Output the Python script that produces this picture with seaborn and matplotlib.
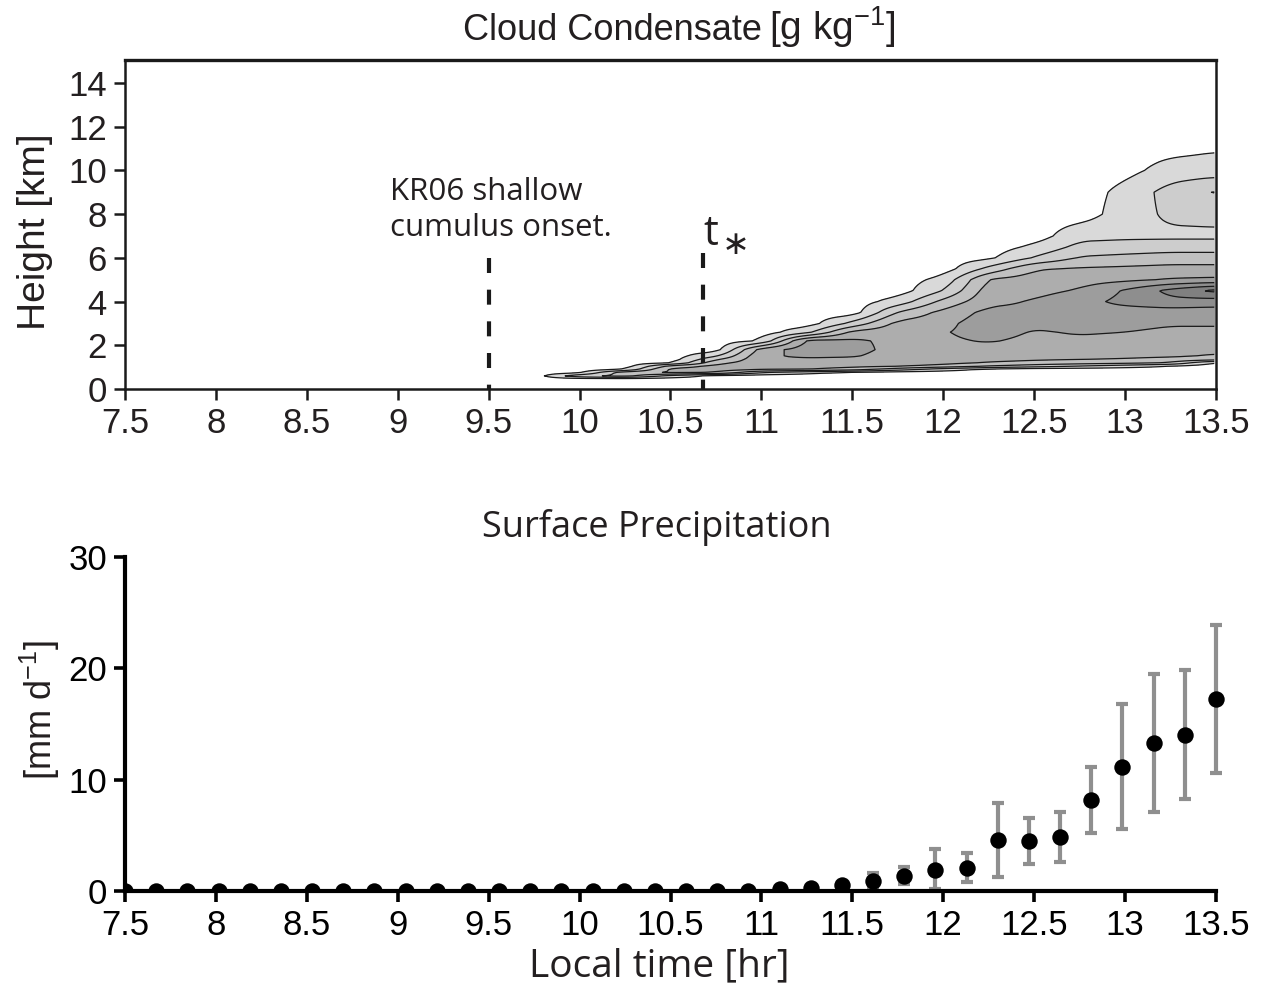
import numpy as np
import pandas as pd
import matplotlib
matplotlib.use("Agg")
import matplotlib.pyplot as plt
import seaborn as sns

# ---------------- data ----------------
# Cloud condensate (contour level units) : one vertical profile per time
cc_times = [9.75, 10.0, 10.25, 10.5, 10.75, 11.0, 11.25, 11.5, 11.75,
            12.0, 12.25, 12.5, 12.75, 13.0, 13.25, 13.5]
cc_heights = [0, 0.3, 0.45, 0.6, 0.75, 0.9, 1.05, 1.2, 1.35, 1.5, 1.8, 2.2,
              2.6, 3.0, 3.5, 4.0, 4.5, 5.0, 5.5, 6.0, 6.5, 7.0, 8.0, 9.0,
              10.0, 11.0, 12.0]
cc_profiles = [
    [0, 0, 0, 0, 0, 0, 0, 0, 0, 0, 0, 0, 0, 0, 0, 0, 0, 0, 0, 0, 0, 0, 0, 0, 0, 0, 0],
    [0, 0, 0, 2.2, 0.3, 0, 0, 0, 0, 0, 0, 0, 0, 0, 0, 0, 0, 0, 0, 0, 0, 0, 0, 0, 0, 0, 0],
    [0, 0, 0, 2.8, 3.2, 0.5, 0, 0, 0, 0, 0, 0, 0, 0, 0, 0, 0, 0, 0, 0, 0, 0, 0, 0, 0, 0, 0],
    [0, 0, 0, 1.2, 3.6, 3.8, 2.8, 0.4, 0, 0, 0, 0, 0, 0, 0, 0, 0, 0, 0, 0, 0, 0, 0, 0, 0, 0, 0],
    [0, 0, 0, 0.2, 3.4, 4.0, 3.8, 3.2, 2.4, 1.4, 0, 0, 0, 0, 0, 0, 0, 0, 0, 0, 0, 0, 0, 0, 0, 0, 0],
    [0, 0, 0, 0, 1.5, 3.6, 4.0, 4.1, 4.2, 4.3, 4.0, 0.6, 0, 0, 0, 0, 0, 0, 0, 0, 0, 0, 0, 0, 0, 0, 0],
    [0, 0, 0, 0, 0.8, 3.5, 4.0, 4.1, 4.3, 4.7, 5.0, 4.8, 1.2, 0, 0, 0, 0, 0, 0, 0, 0, 0, 0, 0, 0, 0, 0],
    [0, 0, 0, 0, 0.3, 3.0, 3.8, 4.0, 4.2, 4.6, 4.9, 4.7, 3.8, 1.8, 0, 0, 0, 0, 0, 0, 0, 0, 0, 0, 0, 0, 0],
    [0, 0, 0, 0, 0, 2.0, 3.6, 3.9, 4.0, 4.0, 4.1, 4.2, 4.2, 3.8, 2.6, 0.9, 0, 0, 0, 0, 0, 0, 0, 0, 0, 0, 0],
    [0, 0, 0, 0, 0, 1.0, 3.2, 3.8, 4.0, 4.0, 4.2, 4.3, 4.4, 4.2, 3.8, 2.8, 1.5, 0.8, 0, 0, 0, 0, 0, 0, 0, 0, 0],
    [0, 0, 0, 0, 0, 0.3, 2.5, 3.4, 3.8, 3.9, 4.1, 4.6, 5.0, 5.1, 4.8, 4.2, 4.0, 3.6, 1.8, 0.3, 0, 0, 0, 0, 0, 0, 0],
    [0, 0, 0, 0, 0, 0, 2.0, 3.2, 3.6, 3.8, 4.0, 4.2, 4.4, 4.7, 4.8, 4.6, 4.2, 4.0, 3.4, 1.6, 0.7, 0, 0, 0, 0, 0, 0],
    [0, 0, 0, 0, 0, 0, 1.5, 3.0, 3.5, 3.8, 4.0, 4.3, 4.6, 5.0, 5.2, 5.1, 4.6, 4.1, 3.6, 2.6, 1.8, 1.2, 0, 0, 0, 0, 0],
    [0, 0, 0, 0, 0, 0, 1.0, 2.8, 3.4, 3.7, 3.9, 4.2, 4.5, 4.8, 5.0, 5.8, 5.6, 4.3, 3.7, 2.8, 1.9, 1.3, 1.0, 0.8, 0.2, 0, 0],
    [0, 0, 0, 0, 0, 0, 0.5, 2.4, 3.2, 3.6, 3.8, 4.0, 4.3, 4.6, 5.0, 6.2, 6.8, 4.6, 3.8, 3.0, 2.0, 1.3, 1.7, 1.9, 0.9, 0.2, 0],
    [0, 0, 0, 0, 0, 0, 0, 0.4, 2.8, 3.4, 3.7, 3.9, 4.3, 4.6, 5.0, 6.0, 7.8, 4.7, 3.8, 3.0, 2.0, 1.3, 1.8, 2.6, 1.0, 0.4, 0],
]
cc_levels = [0.5, 1.5, 2.5, 3.5, 4.5, 5.5, 6.5, 7.5, 10]
cc_greys = ["#d9d9d9", "#cdcdcd", "#c0c0c0", "#adadad", "#9d9d9d",
            "#8e8e8e", "#808080", "#727272"]

# markers on the top panel
kr06_onset = 9.5
t_star = 10.68

# Surface precipitation
precip_time = np.linspace(7.5, 13.5, 36)
precip_mean = [0] * 21 + [0.15, 0.3, 0.55, 0.9, 1.35, 1.9, 2.1, 4.6, 4.5,
                          4.85, 8.2, 11.15, 13.3, 14.0, 17.25]
err_start = 24
precip_lo = [0.35, 0.6, 0.2, 0.8, 1.25, 2.45, 2.6, 5.2, 5.6, 7.1, 8.25, 10.6]
precip_hi = [1.6, 2.15, 3.75, 3.4, 7.9, 6.55, 7.1, 11.1, 16.8, 19.5, 19.85, 23.9]

xticks = [7.5, 8, 8.5, 9, 9.5, 10, 10.5, 11, 11.5, 12, 12.5, 13, 13.5]
xticklabels = ["7.5", "8", "8.5", "9", "9.5", "10", "10.5", "11", "11.5",
               "12", "12.5", "13", "13.5"]

# ---------------- style ----------------
sns.set_theme(style="white")
HELV = ["Liberation Sans", "DejaVu Sans"]
MYRIAD = ["Open Sans", "DejaVu Sans"]
plt.rcParams["font.family"] = HELV
plt.rcParams["mathtext.fontset"] = "custom"
plt.rcParams["mathtext.rm"] = "Liberation Sans"
plt.rcParams["mathtext.it"] = "Liberation Sans:italic"
plt.rcParams["mathtext.bf"] = "Liberation Sans:bold"
TXT = "#231f20"

W, H = 1265, 989
fig = plt.figure(figsize=(W / 100, H / 100), dpi=100)


def fx(px):
    return px / W


def fy(py):
    return 1 - py / H


# ---------------- top panel ----------------
ax1 = fig.add_axes([fx(125), fy(389), fx(1216 - 125), (389 - 60) / H])
Z = np.array(cc_profiles, dtype=float)          # (time, height)
# bilinear resampling of the read-off grid onto a fine mesh for smooth contours
t_fine = np.arange(cc_times[0], cc_times[-1] + 1e-9, 0.02)
h_fine = np.arange(0, cc_heights[-1] + 1e-9, 0.04)
Zh = np.array([np.interp(h_fine, cc_heights, col) for col in Z])      # (time, hf)
Zf = np.array([np.interp(t_fine, cc_times, Zh[:, j])
               for j in range(len(h_fine))])                           # (hf, tf)
kern = np.ones(7) / 7.0
Zf = np.array([np.convolve(np.pad(r, 3, mode="edge"), kern, mode="valid")
               for r in Zf])
ax1.contourf(t_fine, h_fine, Zf, levels=cc_levels, colors=cc_greys)
ax1.contour(t_fine, h_fine, Zf, levels=cc_levels[:-1], colors="#1a1a1a",
            linewidths=0.9)
ax1.set_xlim(7.5, 13.5)
ax1.set_ylim(0, 15.05)
ax1.plot([kr06_onset, kr06_onset], [6.0, 0], color="#1a1a1a", lw=3.0,
         dashes=(3.6, 4.0), dash_capstyle="butt", clip_on=False, zorder=5)
ax1.plot([t_star, t_star], [6.2, 0], color="#1a1a1a", lw=3.0,
         dashes=(3.6, 4.0), dash_capstyle="butt", clip_on=False, zorder=5)
ax1.text(8.96, 8.2, "KR06 shallow\ncumulus onset.", family=MYRIAD,
         fontsize=22.5, color=TXT, ha="left", va="center", linespacing=1.25)
ax1.text(t_star + 0.0, 6.12, "t", family=MYRIAD, fontsize=30, color=TXT,
         ha="left", va="bottom")
ax1.text(t_star + 0.1, 6.6, "\u2217", family=["DejaVu Sans"], fontsize=24,
         color=TXT, ha="left", va="center")
ax1.set_xticks(xticks)
ax1.set_xticklabels(xticklabels)
ax1.set_yticks(range(0, 15, 2))
for s in ax1.spines.values():
    s.set_color("#1a1a1a")
    s.set_linewidth(1.8)
ax1.spines["top"].set_linewidth(2.4)
ax1.tick_params(axis="both", direction="out", length=8, width=1.8,
                color="#1a1a1a", labelsize=25, labelcolor=TXT, pad=5,
                bottom=True, left=True)
ax1.set_xlabel("")
ax1.set_ylabel("")
fig.text(fx(35), fy(232), "Height [km]", fontsize=28, rotation=90,
         ha="center", va="center", color=TXT)
fig.text(fx(762), fy(30), "Cloud Condensate", fontsize=26, ha="right",
         va="center", color=TXT)
fig.text(fx(769), fy(27), r"[g kg$^{\mathregular{-1}}$]", fontsize=28,
         ha="left", va="center", color=TXT)

# ---------------- bottom panel ----------------
x_ext = 13.56
ax2 = fig.add_axes([fx(125), fy(891), fx((x_ext - 7.5) * (1216 - 125) / 6.0),
                    (891 - 557) / H])
t_err = precip_time[err_start:]
m_err = np.array(precip_mean[err_start:])
ax2.errorbar(t_err, m_err,
             yerr=[m_err - np.array(precip_lo), np.array(precip_hi) - m_err],
             fmt="none", ecolor="#8f8f8f", elinewidth=3.0, capsize=4.5,
             capthick=3.0, zorder=2)
df = pd.DataFrame({"time": precip_time, "precip": precip_mean})
sns.scatterplot(data=df, x="time", y="precip", ax=ax2, color="black", s=140,
                linewidth=0, zorder=3, legend=False)
ax2.set_xlim(7.5, x_ext)
ax2.set_ylim(0, 30)
ax2.set_xticks(xticks)
ax2.set_xticklabels(xticklabels)
ax2.set_yticks([0, 10, 20, 30])
ax2.spines["top"].set_visible(False)
ax2.spines["right"].set_visible(False)
for side in ("left", "bottom"):
    ax2.spines[side].set_color("black")
    ax2.spines[side].set_linewidth(3.0)
ax2.spines["bottom"].set_bounds(7.5, 13.5)
ax2.tick_params(axis="both", direction="out", length=8, width=2.6,
                color="black", labelsize=25, labelcolor="black", pad=5,
                bottom=True, left=True)
ax2.set_xlabel("")
ax2.set_ylabel("")
fig.text(fx(40), fy(710), r"[mm d$^{\mathregular{-1}}$]", fontsize=26,
         rotation=90, ha="center", va="center", color=TXT)
fig.text(fx(657), fy(527), "Surface Precipitation", family=MYRIAD,
         fontsize=26, ha="center", va="center", color=TXT)
fig.text(fx(659), fy(966), "Local time [hr]", family=MYRIAD, fontsize=28,
         ha="center", va="center", color=TXT)

fig.savefig("out.png", dpi=100, facecolor="white")
